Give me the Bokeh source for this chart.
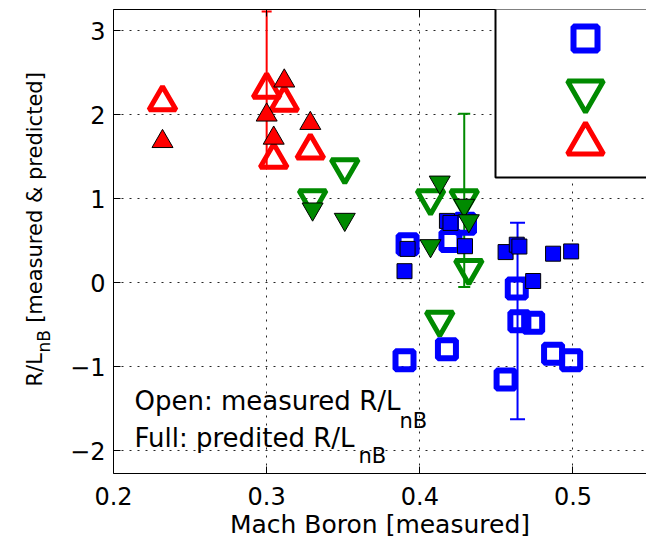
from bokeh.plotting import figure
from bokeh.layouts import row
from bokeh.models import (ColumnDataSource, Whisker, TeeHead, Legend, LegendItem,
                          BoxAnnotation, Label, LinearAxis, FixedTicker, Range1d)
from bokeh.embed import file_html
from bokeh.resources import INLINE

# ---------------- data ----------------
# blue series (squares)
blue_mach = [0.390, 0.392, 0.4177, 0.420, 0.4295, 0.456, 0.4633, 0.465, 0.474, 0.487, 0.4988]
blue_measured = [-0.924, 0.458, -0.793, 0.495, 0.70, -1.153, -0.07, -0.46, -0.476, -0.845, -0.924]
blue_predicted = [0.137, 0.402, 0.735, 0.711, 0.434, 0.364, 0.452, 0.43, 0.02, 0.345, 0.372]

# green series (down triangles)
green_mach = [0.330, 0.351, 0.407, 0.413, 0.429, 0.432]
green_measured = [1.00, 1.37, 1.00, -0.445, 1.00, 0.17]
green_predicted = [0.876, 0.753, 0.44, 1.196, 0.92, 0.736]

# red series (up triangles)
red_mach = [0.232, 0.300, 0.3046, 0.3115, 0.3285]
red_measured = [2.15, 2.30, 1.465, 2.145, 1.575]
red_predicted = [1.68, 1.995, 1.72, 2.40, 1.895]

# error bars (x, centre, half-height)
err_blue = ([0.4638], [-0.456], [1.17])
err_green = ([0.429], [0.98], [1.03])
err_red = ([0.300], [2.30], [0.925])

x_ticks = [0.2, 0.3, 0.4, 0.5]
x_tick_labels = ["0.2", "0.3", "0.4", "0.5"]
y_ticks = [-2, -1, 0, 1, 2, 3]
y_tick_labels = ["\u22122", "\u22121", "0", "1", "2", "3"]

BLUE = "#0000ff"
GREEN = "#008a00"
RED = "#ff0000"
FONT = "DejaVu Sans"

# ---------------- y-axis title strip ----------------
TITLE_W = 60
pt = figure(width=TITLE_W, height=542, x_range=Range1d(0, 1), y_range=Range1d(0, 1),
            x_axis_type=None, y_axis_type=None, output_backend="svg", toolbar_location=None,
            min_border=0, min_border_left=0, min_border_right=0, min_border_top=0, min_border_bottom=0)
pt.outline_line_color = None
pt.grid.visible = False
pt.background_fill_color = "white"
pt.border_fill_color = "white"

def lab(fig, x, y, text, size, angle=0):
    fig.add_layout(Label(x=x, y=y, x_units="screen", y_units="screen", text=text,
                         text_font=FONT, text_font_size=size, text_color="black",
                         text_align="left", text_baseline="alphabetic",
                         angle=angle, angle_units="deg"))

# (the strip's frame is aligned with the main frame: y measured from its bottom edge)
lab(pt, 34, 87, "R/L", "21px", 90)
lab(pt, 43, 121, "nB", "17px", 90)
lab(pt, 34, 144, "\u00a0[measured & predicted]", "21px", 90)

# ---------------- main figure ----------------
p = figure(width=646 - TITLE_W, height=542, x_range=Range1d(0.2, 0.548), y_range=Range1d(-2.27, 3.25),
           output_backend="svg", toolbar_location=None,
           min_border_left=113 - TITLE_W, min_border_right=0, min_border_top=9, min_border_bottom=69)
p.outline_line_color = None
p.background_fill_color = "white"
p.border_fill_color = "white"

for ax in (p.xaxis[0], p.yaxis[0]):
    ax.major_tick_in = 7
    ax.major_tick_out = 0
    ax.minor_tick_line_color = None
    ax.axis_line_color = "black"
    ax.major_tick_line_color = "black"
    ax.major_label_text_font = FONT
    ax.major_label_text_font_size = "24px"
    ax.major_label_text_color = "black"

p.xaxis.ticker = FixedTicker(ticks=x_ticks)
p.xaxis.major_label_overrides = {t: l for t, l in zip(x_ticks, x_tick_labels)}
p.xaxis.major_label_standoff = 13
p.xaxis.axis_label = "Mach Boron [measured]"
p.xaxis.axis_label_text_font = FONT
p.xaxis.axis_label_text_font_size = "25px"
p.xaxis.axis_label_text_font_style = "normal"
p.xaxis.axis_label_text_color = "black"
p.xaxis.axis_label_standoff = 2

p.yaxis.ticker = FixedTicker(ticks=y_ticks)
p.yaxis.major_label_overrides = {t: l for t, l in zip(y_ticks, y_tick_labels)}
p.yaxis.major_label_standoff = 8

top_axis = LinearAxis(ticker=FixedTicker(ticks=x_ticks), major_tick_in=7, major_tick_out=0,
                      minor_tick_line_color=None, major_label_text_font_size="1px",
                      major_label_text_alpha=0, major_label_standoff=0,
                      axis_line_color="black", major_tick_line_color="black")
p.add_layout(top_axis, "above")

for g, t in ((p.xgrid[0], x_ticks), (p.ygrid[0], y_ticks)):
    g.ticker = FixedTicker(ticks=t)
    g.grid_line_color = "black"
    g.grid_line_dash = "2 6"
    g.grid_line_width = 1
    g.grid_line_alpha = 0.85

# ---------------- markers ----------------
r_blue_open = p.scatter(blue_mach, blue_measured, marker="square", size=18,
                        fill_color=None, line_color=BLUE, line_width=6)
p.scatter(blue_mach, blue_predicted, marker="square", size=15,
          fill_color=BLUE, line_color="black", line_width=1)
r_green_open = p.scatter(green_mach, green_measured, marker="inverted_triangle", size=27,
                         fill_color=None, line_color=GREEN, line_width=5)
p.scatter(green_mach, green_predicted, marker="inverted_triangle", size=21,
          fill_color=GREEN, line_color="black", line_width=1)
r_red_open = p.scatter(red_mach, red_measured, marker="triangle", size=27,
                       fill_color=None, line_color=RED, line_width=5)
p.scatter(red_mach, red_predicted, marker="triangle", size=21,
          fill_color=RED, line_color="black", line_width=1)

# ---------------- error bars ----------------
for (ex, ey, ee), col, cap in ((err_blue, BLUE, 15), (err_green, GREEN, 12), (err_red, RED, 10)):
    src = ColumnDataSource(dict(x=ex, lower=[a - b for a, b in zip(ey, ee)],
                                upper=[a + b for a, b in zip(ey, ee)]))
    w = Whisker(source=src, base="x", lower="lower", upper="upper", dimension="height",
                line_color=col, line_width=2,
                upper_head=TeeHead(size=cap, line_color=col, line_width=2),
                lower_head=TeeHead(size=cap, line_color=col, line_width=2))
    p.add_layout(w)

# ---------------- legend box (cropped at right) ----------------
box = BoxAnnotation(left=382, right=600, top=468, bottom=296,
                    left_units="screen", right_units="screen", top_units="screen", bottom_units="screen",
                    fill_color="white", fill_alpha=1.0, line_color="black", line_width=2, line_alpha=1.0)
p.add_layout(box)

def one_item_legend(renderer, loc, gsize):
    return Legend(items=[LegendItem(label=" ", renderers=[renderer])], location=loc,
                  glyph_width=gsize, glyph_height=gsize, padding=0, margin=0, spacing=0,
                  label_standoff=0, label_width=0, label_height=0, label_text_font_size="1px",
                  background_fill_alpha=0, border_line_color=None)

p.add_layout(one_item_legend(r_blue_open, (442, 405), 60))
p.add_layout(one_item_legend(r_green_open, (427, 337), 90))
p.add_layout(one_item_legend(r_red_open, (427, 285), 90))

# ---------------- texts inside the frame ----------------
lab(p, 21, 73, "Open: measured R/L", "26px")
lab(p, 286, 53, "nB", "21px")
lab(p, 21, 36, "Full: predited R/L", "26px")
lab(p, 245, 18, "nB", "21px")

layout = row(pt, p, spacing=0)
open("out.html", "w").write(file_html(layout, INLINE))
